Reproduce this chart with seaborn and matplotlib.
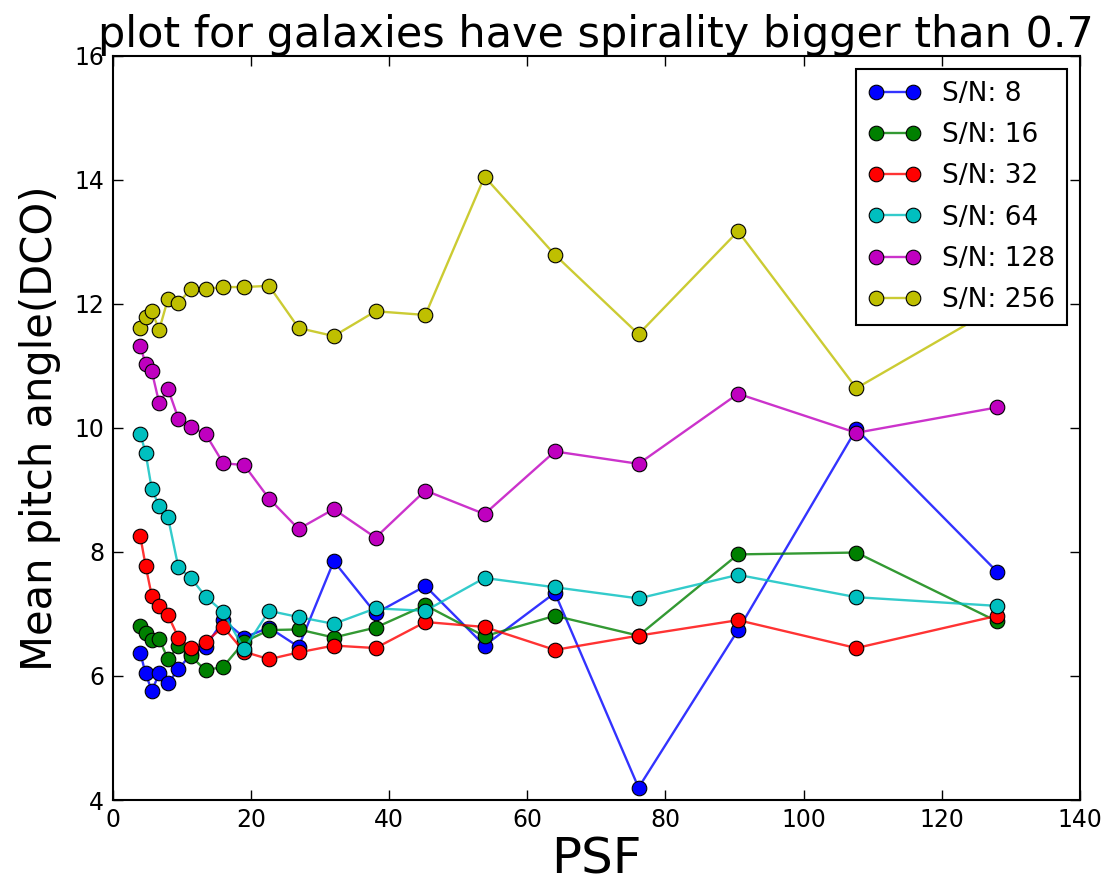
import matplotlib
matplotlib.use("Agg")
import matplotlib.pyplot as plt
import seaborn as sns
import pandas as pd

psf = [4, 4.76, 5.66, 6.73, 8, 9.51, 11.31, 13.45, 16, 19.03, 22.63, 26.91,
       32, 38.05, 45.25, 53.82, 64, 76.11, 90.51, 107.63, 128]

sn8 = [6.37, 6.04, 5.76, 6.04, 5.88, 6.11, 6.35, 6.47, 6.90, 6.62, 6.78, 6.47,
       7.85, 7.01, 7.45, 6.49, 7.34, 4.20, 6.74, 9.98, 7.68]
sn16 = [6.81, 6.69, 6.58, 6.60, 6.27, 6.48, 6.32, 6.09, 6.15, 6.55, 6.74, 6.75,
        6.62, 6.78, 7.14, 6.64, 6.97, 6.65, 7.96, 7.99, 6.88]
sn32 = [8.25, 7.78, 7.29, 7.12, 6.98, 6.62, 6.45, 6.55, 6.79, 6.39, 6.27, 6.38,
        6.49, 6.45, 6.87, 6.79, 6.42, 6.65, 6.90, 6.45, 6.97]
sn64 = [9.90, 9.60, 9.01, 8.74, 8.56, 7.75, 7.58, 7.28, 7.03, 6.43, 7.05, 6.95,
        6.84, 7.09, 7.05, 7.58, 7.43, 7.25, 7.63, 7.27, 7.13]
sn128 = [11.32, 11.03, 10.91, 10.40, 10.63, 10.15, 10.02, 9.90, 9.43, 9.40, 8.86, 8.37,
         8.69, 8.23, 8.99, 8.61, 9.62, 9.42, 10.55, 9.92, 10.33]
sn256 = [11.61, 11.79, 11.88, 11.58, 12.08, 12.01, 12.24, 12.24, 12.27, 12.27, 12.29, 11.61,
         11.48, 11.88, 11.82, 14.05, 12.79, 11.51, 13.17, 10.64, 11.95]

labels = ["S/N: 8", "S/N: 16", "S/N: 32", "S/N: 64", "S/N: 128", "S/N: 256"]
series = [sn8, sn16, sn32, sn64, sn128, sn256]
colors = [(0, 0, 1), (0, 0.5, 0), (1, 0, 0), (0, 0.75, 0.75), (0.75, 0, 0.75), (0.75, 0.75, 0)]

title = "plot for galaxies have spirality bigger than 0.7"
xlabel = "PSF"
ylabel = "Mean pitch angle(DCO)"

plt.rcParams.update({
    "font.family": ["DejaVu Sans"],
    "xtick.direction": "in",
    "ytick.direction": "in",
    "xtick.top": True,
    "ytick.right": True,
    "axes.linewidth": 1.5,
})

fig = plt.figure(figsize=(11.07, 8.84), dpi=100)
ax = fig.add_axes([0.1018, 0.095, 0.9756 - 0.1018, 0.937 - 0.095])

for lab, vals, col in zip(labels, series, colors):
    df = pd.DataFrame({"psf": psf, "angle": vals})
    line_col = (col[0], col[1], col[2], 0.8)
    sns.lineplot(data=df, x="psf", y="angle", ax=ax, color=line_col, marker="o",
                 markersize=10.5, markerfacecolor=col, markeredgecolor="black",
                 markeredgewidth=0.8, linewidth=1.7, label=lab,
                 estimator=None, sort=False)

ax.set_xlim(0, 140)
ax.set_ylim(4, 16)
ax.set_xticks(range(0, 141, 20))
ax.set_yticks(range(4, 17, 2))
ax.tick_params(axis="both", which="major", labelsize=17, length=7, width=1, pad=6)
ax.set_xlabel(xlabel, fontsize=36, labelpad=2)
ax.set_ylabel(ylabel, fontsize=30, labelpad=10)
ax.set_title(title, fontsize=31, pad=6)

leg = ax.legend(loc="upper right", numpoints=2, fontsize=19, fancybox=False,
                frameon=True, borderpad=0.45, labelspacing=0.58, handlelength=2,
                handletextpad=0.8, borderaxespad=0.5, framealpha=1.0)
leg.get_frame().set_edgecolor("black")
leg.get_frame().set_linewidth(1.5)
leg.set_zorder(10)

fig.savefig("out.png", dpi=100, facecolor="white")
